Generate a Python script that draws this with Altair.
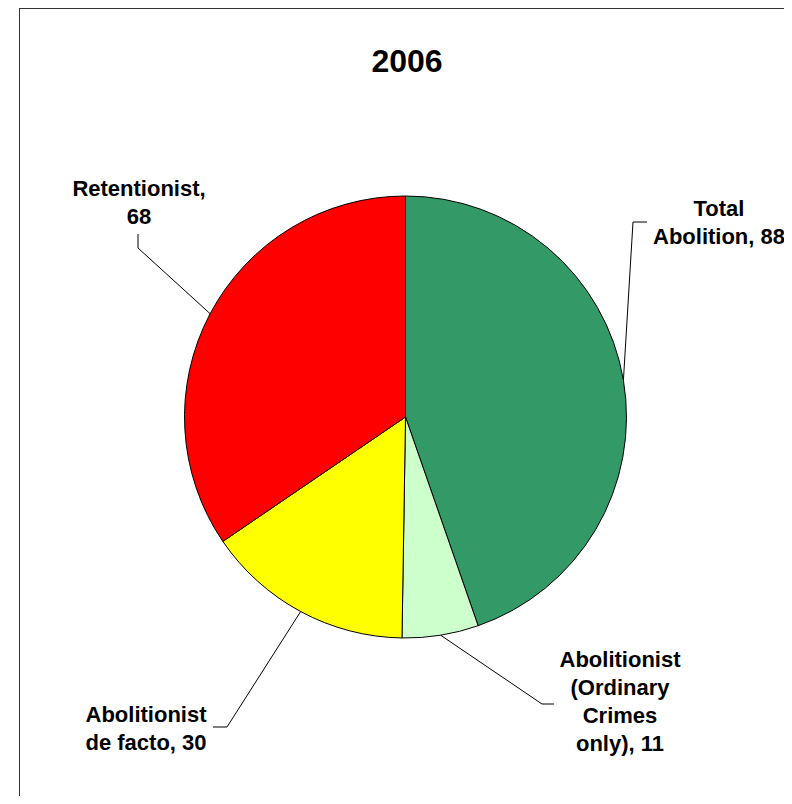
import math
import altair as alt
import pandas as pd

# ---- data ----
categories = ["Total Abolition", "Abolitionist (Ordinary Crimes only)",
              "Abolitionist de facto", "Retentionist"]
values = [88, 11, 30, 68]
label_texts = ["Total\nAbolition, 88", "Abolitionist\n(Ordinary\nCrimes\nonly), 11",
               "Abolitionist\nde facto, 30", "Retentionist,\n68"]
title_text = "2006"

# ---- styles / layout ----
colors = ["#339966", "#CCFFCC", "#FFFF00", "#FF0000"]
W, H = 776, 788
CX, CY, R = 397.5, 409, 221
FONT = "Liberation Sans"

# label anchor (center x, first baseline y) and leader elbow/end points
label_anchor = {
    "Total Abolition": (711, 208),
    "Abolitionist (Ordinary Crimes only)": (612, 659),
    "Abolitionist de facto": (138, 714),
    "Retentionist": (131, 188),
}
leader_path = {
    "Total Abolition": [(625, 214), (639, 214)],
    "Abolitionist (Ordinary Crimes only)": [(534, 696), (546, 696)],
    "Abolitionist de facto": [(219, 719), (205, 719)],
    "Retentionist": [(130, 240), (130, 226)],
}

pie_df = pd.DataFrame({"category": categories, "value": values,
                       "idx": list(range(len(categories)))})

total = sum(values)
rows = []
cum = 0
for cat, v in zip(categories, values):
    mid = (cum + v / 2) / total * 2 * math.pi
    cum += v
    sx = CX + R * math.sin(mid)
    sy = CY - R * math.cos(mid)
    pts = [(sx, sy)] + leader_path[cat]
    for k, (px, py) in enumerate(pts):
        rows.append({"category": cat, "step": k, "x": px, "y": py})
lead_df = pd.DataFrame(rows)

label_df = pd.DataFrame({
    "category": categories,
    "text": label_texts,
    "x": [label_anchor[c][0] for c in categories],
    "y": [label_anchor[c][1] for c in categories],
})
title_df = pd.DataFrame({"text": [title_text], "x": [399], "y": [64]})

xs = alt.Scale(domain=[0, W], nice=False, zero=False)
ys = alt.Scale(domain=[0, H], nice=False, zero=False, reverse=True)

pie = alt.Chart(pie_df).mark_arc(stroke="black", strokeWidth=1, radius=R).encode(
    theta=alt.Theta("value:Q", stack=True),
    color=alt.Color("category:N", scale=alt.Scale(domain=categories, range=colors), legend=None),
    order=alt.Order("idx:Q"),
    x=alt.value(CX),
    y=alt.value(CY),
)

lines = alt.Chart(lead_df).mark_line(color="black", strokeWidth=1).encode(
    x=alt.X("x:Q", scale=xs, axis=None),
    y=alt.Y("y:Q", scale=ys, axis=None),
    detail="category:N",
    order="step:Q",
)

labels = alt.Chart(label_df).mark_text(
    font=FONT, fontWeight="bold", fontSize=22, lineBreak="\n", lineHeight=28,
    align="center", baseline="alphabetic", color="black",
).encode(
    x=alt.X("x:Q", scale=xs, axis=None),
    y=alt.Y("y:Q", scale=ys, axis=None),
    text="text:N",
)

title = alt.Chart(title_df).mark_text(
    font=FONT, fontWeight="bold", fontSize=32, align="center",
    baseline="alphabetic", color="black",
).encode(
    x=alt.X("x:Q", scale=xs, axis=None),
    y=alt.Y("y:Q", scale=ys, axis=None),
    text="text:N",
)

frame_left = alt.Chart(pie_df).mark_rule(color="#333333", strokeWidth=1).encode(
    x=alt.value(11.5), y=alt.value(0), y2=alt.value(H))
frame_top = alt.Chart(pie_df).mark_rule(color="#333333", strokeWidth=1).encode(
    x=alt.value(11), x2=alt.value(W), y=alt.value(0.5))

chart = alt.layer(frame_left, frame_top, pie, lines, labels, title).properties(
    width=W, height=H, padding=0,
    autosize=alt.AutoSizeParams(type="none"),
).configure_view(stroke=None)

chart.save("out.html", embed_options={"renderer": "svg", "actions": False})
